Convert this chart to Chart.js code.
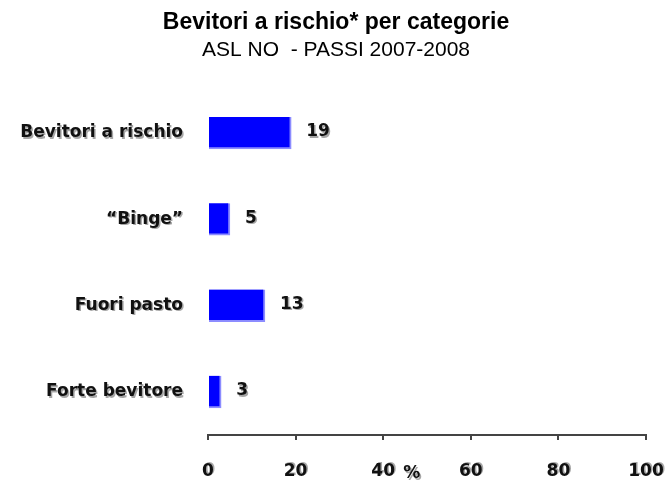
<!DOCTYPE html>
<html lang="it">
<head>
<meta charset="utf-8"/>
<title>Bevitori a rischio per categorie</title>
<script src="https://cdn.jsdelivr.net/npm/chart.js"></script>
<style>
html, body { margin: 0; padding: 0; background: #fff; overflow: hidden; }
#wrap { position: relative; width: 672px; height: 481px; }
</style>
</head>
<body>
<div id="wrap"><canvas id="chart"></canvas></div>
<script>
"use strict";
const categories = ["Bevitori a rischio", "\u201cBinge\u201d", "Fuori pasto", "Forte bevitore"];
const values = [19, 5, 13, 3];
const xTicks = [0, 20, 40, 60, 80, 100];

const FONT = "'DejaVu Sans', 'Liberation Sans', Arial, sans-serif";
const SHADOW = "rgba(0,0,0,0.35)";
const Y_PAD = 25;
const X_PAD = 21;
const TICK_SIZE = 17;

// ombra grigia sotto le etichette degli assi (disegnata prima degli assi)
const shadowPlugin = {
  id: "shadow",
  beforeDraw(chart){
    const ctx = chart.ctx;
    const y = chart.scales.y;
    const x = chart.scales.x;
    ctx.save();
    ctx.fillStyle = SHADOW;
    ctx.font = "bold " + TICK_SIZE + "px " + FONT;
    ctx.textAlign = "right";
    ctx.textBaseline = "middle";
    y.ticks.forEach((t, i) => {
      ctx.fillText(categories[i], y.right - Y_PAD + 1.5, y.getPixelForTick(i) + 1.5);
    });
    ctx.textAlign = "center";
    ctx.textBaseline = "top";
    x.ticks.forEach((t, i) => {
      ctx.fillText(String(t.value), x.getPixelForTick(i) + 1.5, x.top + 5 + X_PAD + 1.5);
    });
    ctx.restore();
  }
};

// numeri a destra delle barre e "%" accanto al 40
const labelPlugin = {
  id: "labels",
  afterDatasetsDraw(chart){
    const ctx = chart.ctx;
    const meta = chart.getDatasetMeta(0);
    const x = chart.scales.x;
    ctx.save();
    ctx.font = "bold " + TICK_SIZE + "px " + FONT;
    ctx.textBaseline = "middle";
    ctx.textAlign = "left";
    meta.data.forEach((bar, i) => {
      ctx.fillStyle = SHADOW;
      ctx.fillText(String(values[i]), bar.x + 16.5, bar.y + 0.5);
      ctx.fillStyle = "#111";
      ctx.fillText(String(values[i]), bar.x + 15, bar.y - 1);
    });
    ctx.fillStyle = SHADOW;
    ctx.fillText("%", x.getPixelForValue(40) + 21.5, 475.5);
    ctx.fillStyle = "#111";
    ctx.fillText("%", x.getPixelForValue(40) + 20, 474);
    ctx.restore();
  }
};

new Chart(document.getElementById("chart"), {
  type: "bar",
  data: {
    labels: categories,
    datasets: [{
      data: values,
      backgroundColor: "#0000ff",
      borderColor: "#8c8cff",
      borderWidth: {right: 2, bottom: 2, top: 0, left: 0},
      borderSkipped: false,
      barThickness: 32
    }]
  },
  options: {
    indexAxis: "y",
    responsive: true,
    maintainAspectRatio: false,
    animation: false,
    layout: {padding: 0},
    plugins: {
      legend: {display: false},
      tooltip: {enabled: false},
      title: {
        display: true,
        text: "Bevitori a rischio* per categorie",
        color: "#000",
        font: {family: "'Liberation Sans', Arial, sans-serif", size: 23, weight: "bold"},
        padding: {top: 9, bottom: 0}
      },
      subtitle: {
        display: true,
        text: "ASL NO  - PASSI 2007-2008",
        color: "#000",
        font: {family: "'Liberation Sans', Arial, sans-serif", size: 21},
        padding: {top: 1, bottom: 27}
      }
    },
    scales: {
      x: {
        min: 0,
        max: 100,
        afterBuildTicks: s => { s.ticks = xTicks.map(v => ({value: v})); },
        afterFit: s => { s.height = 46; s.paddingLeft = 0; s.paddingRight = 26; },
        grid: {display: true, drawOnChartArea: false, tickLength: 5, color: "#444", lineWidth: 2},
        border: {display: true, color: "#444", width: 2},
        ticks: {
          color: "#111",
          padding: X_PAD,
          font: {family: FONT, size: TICK_SIZE, weight: "bold"}
        }
      },
      y: {
        afterFit: s => { s.width = 208; },
        grid: {display: false, drawTicks: false},
        border: {display: false},
        ticks: {
          color: "#111",
          padding: Y_PAD,
          font: {family: FONT, size: TICK_SIZE, weight: "bold"}
        }
      }
    }
  },
  plugins: [shadowPlugin, labelPlugin]
});
</script>
</body>
</html>
